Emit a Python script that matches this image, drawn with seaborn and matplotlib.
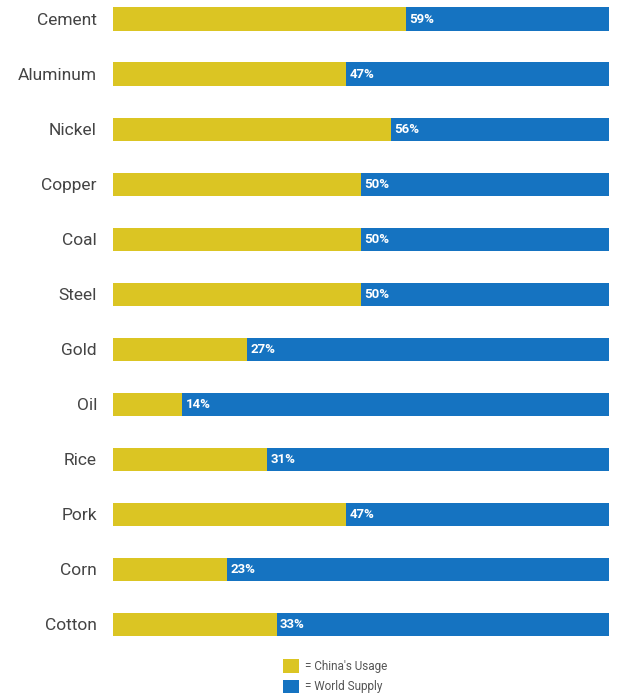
import matplotlib
matplotlib.use('Agg')
import matplotlib.pyplot as plt
import seaborn as sns
from matplotlib.patches import Patch

commodities = ['Cement', 'Aluminum', 'Nickel', 'Copper', 'Coal', 'Steel',
               'Gold', 'Oil', 'Rice', 'Pork', 'Corn', 'Cotton']
china_share = [59, 47, 56, 50, 50, 50, 27, 14, 31, 47, 23, 33]
world_total = [100] * len(commodities)

yellow = '#DBC523'
blue = '#1573C1'

sns.set_theme(style='white')
plt.rcParams['font.family'] = ['Roboto', 'DejaVu Sans']

fig = plt.figure(figsize=(6.17, 6.98), dpi=100)
ax = fig.add_axes([0.183, 0.083, 0.804, 0.911])

# world supply as full bar, china's usage on top
sns.barplot(x=world_total, y=commodities, color=blue, orient='h',
            width=0.42, saturation=1, linewidth=0, ax=ax)
sns.barplot(x=china_share, y=commodities, color=yellow, orient='h',
            width=0.42, saturation=1, linewidth=0, ax=ax)

for i, v in enumerate(china_share):
    ax.text(v + 0.7, i, f'{v}%', color='white', fontsize=9.5, fontweight='bold',
            va='center', ha='left')

ax.set_xlim(0, 100)
ax.set_ylim(11.29, -0.27)
ax.set_xlabel('')
ax.set_ylabel('')
ax.set_xticks([])
ax.tick_params(axis='y', length=0, pad=11.5, labelsize=12.5, labelcolor='#444444')
sns.despine(ax=ax, left=True, bottom=True, top=True, right=True)

handles = [Patch(facecolor=yellow, edgecolor='none', label="= China's Usage"),
           Patch(facecolor=blue, edgecolor='none', label='= World Supply')]
fig.legend(handles=handles, loc='center left', bbox_to_anchor=(0.449, 0.031),
           frameon=False, fontsize=8.5, labelcolor='#555555',
           handlelength=1.4, handleheight=1.4, handletextpad=0.5,
           labelspacing=0.55, borderpad=0)

fig.savefig('out.png', dpi=100)
